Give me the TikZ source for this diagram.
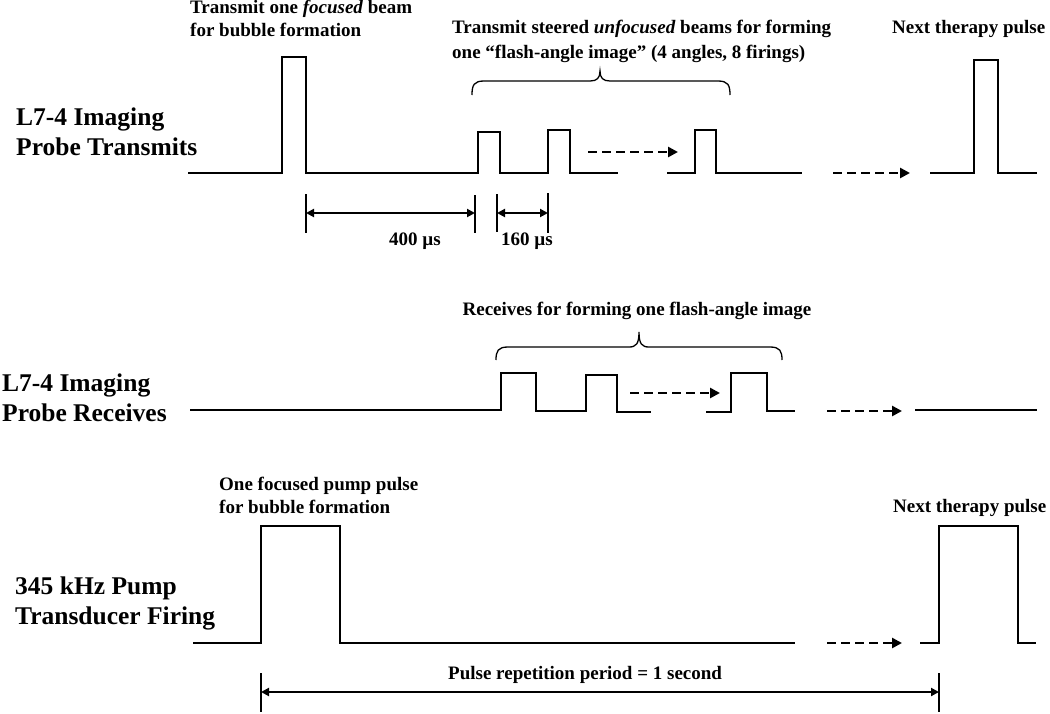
\documentclass[tikz,border=0pt]{standalone}
\usepackage{fontspec}
\setmainfont{Liberation Serif}
\usetikzlibrary{arrows.meta}
\begin{document}
\begin{tikzpicture}[x=1pt,y=-1pt,
  wave/.style={line width=2.6pt, line join=miter},
  dasharrow/.style={line width=2.6pt, dash pattern=on 9pt off 5pt, -{Triangle[length=10pt,width=10pt]}},
  dimarrow/.style={line width=2pt, {Triangle[length=8pt,width=8pt]}-{Triangle[length=8pt,width=8pt]}},
  tickline/.style={line width=2.2pt},
  bracepath/.style={line width=1.3pt},
  lab/.style={font=\fontsize{25.5}{30}\selectfont\bfseries, align=left, inner sep=0pt, anchor=base west},
  ann/.style={font=\fontsize{19}{23}\selectfont\bfseries, align=left, inner sep=0pt, anchor=base west},
]
\useasboundingbox (0,0) rectangle (1050,713);

% ---------- labels (base = last line) ----------
\node[lab] (labTx) at (16,155) {L7-4 Imaging\\Probe Transmits};
\node[lab] (labRx) at (2,421) {L7-4 Imaging\\Probe Receives};
\node[lab] (labPump) at (15,624) {345 kHz Pump\\Transducer Firing};

% ---------- top row: transmits ----------
\node[ann] (txFocus) at (190,36) {Transmit one \textit{focused} beam\\for bubble formation};
\node[ann, font=\fontsize{19}{25}\selectfont\bfseries] (txFlash) at (452,58) {Transmit steered \textit{unfocused} beams for forming\\one “flash-angle image” (4 angles, 8 firings)};
\node[ann] (txNext) at (892,33) {Next therapy pulse};

\draw[wave] (188,173) -- (282,173) -- (282,57) -- (306,57) -- (306,173) -- (478,173) -- (478,132) -- (500,132) -- (500,173) -- (548,173) -- (548,130) -- (570,130) -- (570,173) -- (618,173);
\coordinate (txDa) at (588,152);
\coordinate (txDb) at (678,152);
\draw[dasharrow] (txDa) -- (txDb);
\draw[wave] (667,173) -- (695,173) -- (695,130) -- (716,130) -- (716,173) -- (802,173);
\coordinate (txDc) at (833,173);
\coordinate (txDd) at (910,173);
\draw[dasharrow] (txDc) -- (txDd);
\draw[wave] (930,173) -- (974,173) -- (974,60) -- (998,60) -- (998,173) -- (1037,173);

% brace top
\draw[bracepath] (472,95) .. controls (472,85) and (474,81) .. (484,81) -- (590,81) .. controls (597,81) and (600,78) .. (600,71) .. controls (600,78) and (603,81) .. (610,81) -- (718,81) .. controls (728,81) and (730,85) .. (730,95);

% dimension marks
\draw[tickline] (306,194) -- (306,233);
\draw[tickline] (475,195) -- (475,233);
\draw[tickline] (497,194) -- (497,232);
\draw[tickline] (548,193) -- (548,233);
\coordinate (d1a) at (306,213);
\coordinate (d1b) at (475,213);
\coordinate (d2a) at (497,213);
\coordinate (d2b) at (548,213);
\draw[dimarrow] (d1a) -- (d1b);
\draw[dimarrow] (d2a) -- (d2b);
\node[ann, anchor=base] (t400) at (415,245) {400 µs};
\node[ann, anchor=base] (t160) at (527,245) {160 µs};

% ---------- middle row: receives ----------
\node[ann, anchor=base] (rxText) at (637,315) {Receives for forming one flash-angle image};
\draw[bracepath] (496,360) .. controls (496,351) and (498,347) .. (508,347) -- (629,347) .. controls (636,347) and (639,344) .. (639,332) .. controls (639,344) and (642,347) .. (649,347) -- (770,347) .. controls (780,347) and (782,351) .. (782,360);

\draw[wave] (190,410) -- (501,410) -- (501,373) -- (536,373) -- (536,411) -- (586,411) -- (586,375) -- (617,375) -- (617,412) -- (651,412);
\coordinate (rxDa) at (630,393);
\coordinate (rxDb) at (720,393);
\draw[dasharrow] (rxDa) -- (rxDb);
\draw[wave] (706,412) -- (731,412) -- (731,373) -- (767,373) -- (767,411) -- (795,411);
\coordinate (rxDc) at (827,411);
\coordinate (rxDd) at (902,411);
\draw[dasharrow] (rxDc) -- (rxDd);
\draw[wave] (915,410) -- (1037,410);

% ---------- bottom row: pump ----------
\node[ann] (pumpText) at (219,513) {One focused pump pulse\\for bubble formation};
\node[ann] (pumpNext) at (893,512) {Next therapy pulse};

\draw[wave] (193,643) -- (261,643) -- (261,526) -- (340,526) -- (340,643) -- (795,643);
\coordinate (pDa) at (827,643);
\coordinate (pDb) at (902,643);
\draw[dasharrow] (pDa) -- (pDb);
\draw[wave] (920,643) -- (939,643) -- (939,526) -- (1018,526) -- (1018,643) -- (1036,643);

\draw[tickline] (261,673) -- (261,712);
\draw[tickline] (939,673) -- (939,712);
\coordinate (prA) at (261,692);
\coordinate (prB) at (939,692);
\draw[dimarrow] (prA) -- (prB);
\node[ann] (prText) at (448,679) {Pulse repetition period = 1 second};

\end{tikzpicture}
\end{document}
